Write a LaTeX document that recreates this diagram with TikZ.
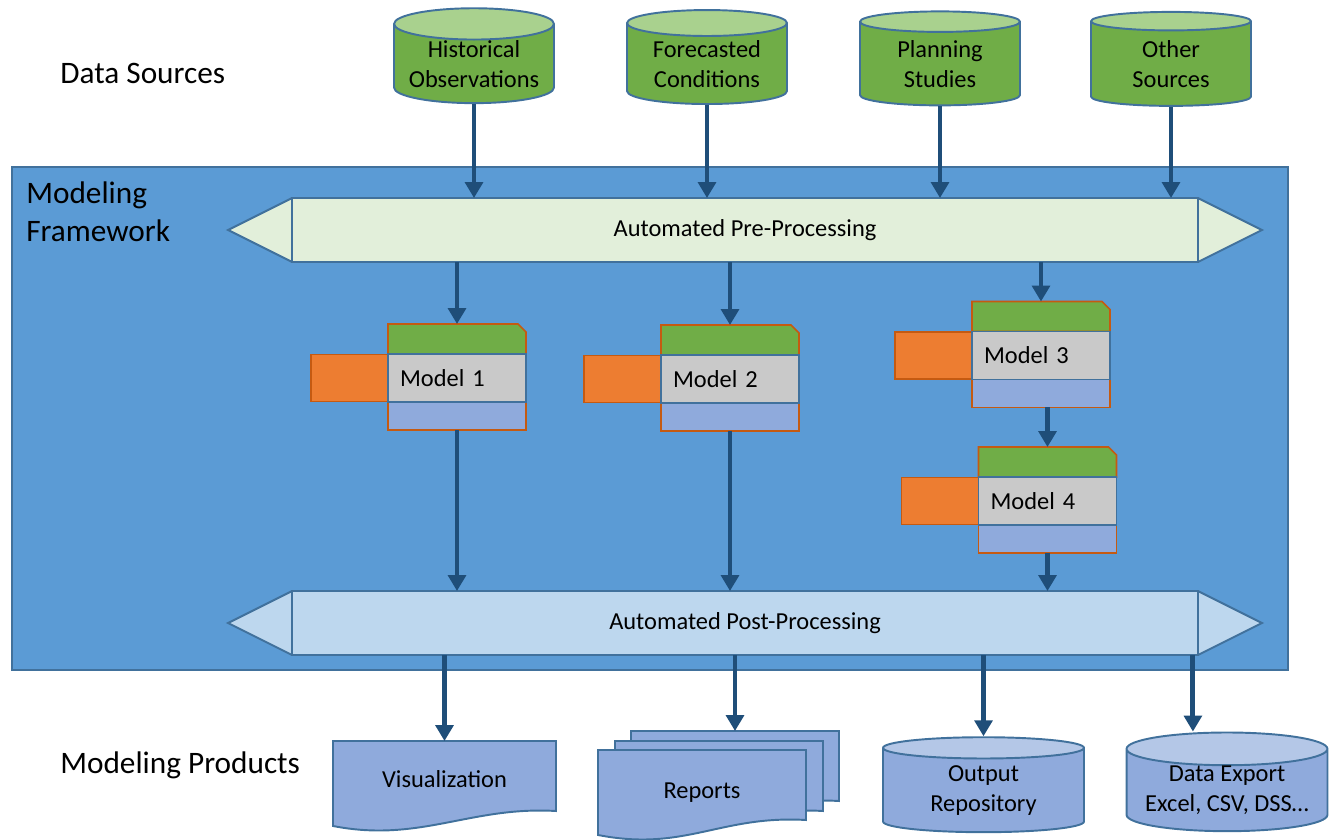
\documentclass[tikz,border=0pt]{standalone}
\usepackage{fontspec}
\setmainfont{Carlito}
\usetikzlibrary{arrows.meta,positioning,shapes.geometric}
\definecolor{frameblue}{HTML}{5B9BD5}
\definecolor{edgeblue}{HTML}{41719C}
\definecolor{arrblue}{HTML}{1F4E79}
\definecolor{srcgreen}{HTML}{70AD47}
\definecolor{srctop}{HTML}{A9D18E}
\definecolor{prefill}{HTML}{E2EFDA}
\definecolor{postfill}{HTML}{BDD7EE}
\definecolor{prodfill}{HTML}{8FAADC}
\definecolor{prodtop}{HTML}{B4C7E7}
\definecolor{mgray}{HTML}{C9C9C9}
\definecolor{morange}{HTML}{ED7D31}
\definecolor{mrim}{HTML}{C55A11}
\pgfdeclarelayer{back}
\pgfdeclarelayer{front}
\pgfsetlayers{back,main,front}

\begin{document}
\begin{tikzpicture}[x=0.02cm, y=-0.02cm,
    txt/.style={font=\fontsize{13.9}{17}\selectfont},
    big/.style={font=\fontsize{17.8}{21.5}\selectfont, align=left, inner sep=0pt},
    src/.style={txt, cylinder, shape border rotate=90, draw=edgeblue, line width=1.1pt,
      cylinder uses custom fill, cylinder body fill=srcgreen, cylinder end fill=srctop,
      minimum width=3.2cm, minimum height=1.88cm, aspect=0.24, align=center, inner sep=0pt},
    prod/.style={src, cylinder body fill=prodfill, cylinder end fill=prodtop,
      minimum width=4.02cm, minimum height=1.9cm, aspect=0.2},
    bar/.style={txt, draw=edgeblue, line width=1.5pt, minimum width=18.12cm,
      minimum height=1.28cm, outer sep=0pt},
    mdl/.style={txt, draw=edgeblue, fill=mgray, line width=0.9pt, minimum height=0.96cm,
      text width=2.28cm, inner xsep=0.24cm, align=left, outer sep=0pt},
    tab/.style={minimum width=2.76cm, minimum height=0.6cm, inner sep=0pt, outer sep=0pt},
    rim/.style={draw=mrim, line width=0.9pt},
    outp/.style={rim, fill=prodfill, minimum width=2.76cm, minimum height=0.56cm,
      inner sep=0pt, outer sep=0pt},
    inp/.style={rim, fill=morange, minimum width=1.54cm, minimum height=0.94cm,
      inner sep=0pt, outer sep=0pt},
    page/.style={txt, minimum height=1.7cm, inner sep=0pt, outer sep=0pt},
    doc/.style={draw=edgeblue, fill=prodfill, line width=1.1pt},
    arr/.style={draw=arrblue, line width=2.8pt, -{Triangle[width=10pt,length=9pt]}}]
  \useasboundingbox (0,0) rectangle (1335,839);

  % framework box
  \begin{pgfonlayer}{back}
    \node[draw=edgeblue, fill=frameblue, line width=1.1pt, minimum width=25.52cm,
      minimum height=10.06cm] (fw) at (650,418.5) {};
  \end{pgfonlayer}

  \node[big, anchor=west] (lsrc) at (60,73) {Data Sources};
  \node[big, anchor=west] (lfw) at (26,212) {Modeling\\Framework};
  \node[big, anchor=west] (lprod) at (60,765) {Modeling Products};

  % data sources
  \node[src] (hist) at (474,64) {Historical\\Observations};
  \node[src] (fcst) at (707,64) {Forecasted\\Conditions};
  \node[src] (plan) at (940,64) {Planning\\Studies};
  \node[src] (other) at (1171,64) {Other\\Sources};

  % pre and post bars
  \node[bar, fill=prefill] (pre) at (745,230) {Automated Pre-Processing};
  \node[bar, fill=postfill] (post) at (745,623) {Automated Post-Processing};
  \begin{pgfonlayer}{back}
    \foreach \b/\c in {pre/prefill, post/postfill}
      \filldraw[draw=edgeblue, fill=\c, line width=1.1pt] (\b.north west)
        -- ([xshift=-1.28cm]\b.west) -- (\b.south west) -- (\b.south east)
        -- ([xshift=1.28cm]\b.east) -- (\b.north east) -- cycle;
  \end{pgfonlayer}

  % models
  \begin{pgfonlayer}{front}
    \node[mdl] (m1) at (457,378) {Model 1};
    \node[mdl] (m2) at (730,379) {Model 2};
    \node[mdl] (m3) at (1041,355.5) {Model 3};
    \node[mdl] (m4) at (1047.5,501) {Model 4};
  \end{pgfonlayer}
  \foreach \m in {m1,m2,m3,m4} {
    \node[tab, above=0pt of \m] (t\m) {};
    \filldraw[rim, fill=srcgreen] (t\m.south west) -- (t\m.north west)
      -- ([xshift=-0.16cm]t\m.north east) -- ([yshift=-0.16cm]t\m.north east)
      -- (t\m.south east) -- cycle;
    \node[outp, below=0pt of \m] (b\m) {};
    \node[inp, left=0pt of \m] (i\m) {};
  }

  % products
  \node[page, minimum width=4.46cm] (vis) at (444.5,783.5) {\raisebox{5pt}{Visualization}};
  \node[page, minimum width=4.16cm] (rep3) at (735,773.5) {};
  \node[page, minimum width=4.16cm] (rep2) at (719,783.5) {};
  \node[page, minimum width=4.16cm] (rep) at (702,792.5) {Reports};
  \begin{pgfonlayer}{back}
    \foreach \p in {vis,rep3,rep2,rep}
      \filldraw[doc] (\p.south west) -- (\p.north west) -- (\p.north east)
        -- ([yshift=0.3cm]\p.south east) .. controls +(-86,-5) and +(87,17) .. (\p.south west)
        -- cycle;
  \end{pgfonlayer}
  \node[prod] (outrep) at (983.5,790.5) {Output\\Repository};
  \node[prod] (export) at (1227,790.5) {Data Export\\Excel, CSV, DSS…};

  % connectors
  \foreach \s in {hist,fcst,plan,other}
    \draw[arr] (\s.south) -- (\s.south |- pre.north);
  \foreach \m in {m1,m2,m3}
    \draw[arr] (pre.south -| t\m.north) -- (t\m.north);
  \foreach \m in {m1,m2,m4}
    \draw[arr] (b\m.south) -- (b\m.south |- post.north);
  \draw[arr] (bm3.south -| tm4.north) -- (tm4.north);
  \draw[arr] (post.south -| vis.north) -- (vis.north);
  \draw[arr] (post.south -| rep3.north) -- (rep3.north);
  \draw[arr] (post.south -| outrep.north) -- (outrep.north);
  \coordinate (ex) at ([xshift=-0.1cm]post.south east);
  \draw[arr] (ex) -- (ex |- export.north);
\end{tikzpicture}
\end{document}
